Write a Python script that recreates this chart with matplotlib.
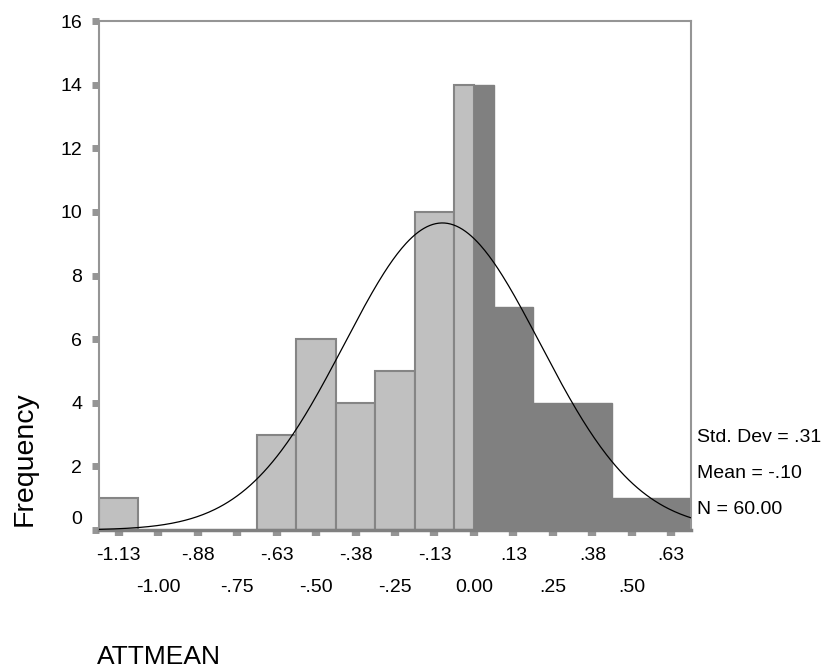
import numpy as np
import matplotlib.pyplot as plt
from matplotlib.transforms import ScaledTranslation

# histogram of ATTMEAN, bin width .125
bin_centers = [-1.125, -1.0, -0.875, -0.75, -0.625, -0.5, -0.375, -0.25,
               -0.125, 0.0, 0.125, 0.25, 0.375, 0.5, 0.625]
counts = [1, 0, 0, 0, 3, 6, 4, 5, 10, 14, 7, 4, 4, 1, 1]
bin_width = 0.125
split_at = 0.0  # bars right of this are shaded dark

std_dev = 0.31
mean = -0.10
n_obs = 60

row1_ticks = [-1.125, -0.875, -0.625, -0.375, -0.125, 0.125, 0.375, 0.625]
row1_labels = ['-1.13', '-.88', '-.63', '-.38', '-.13', '.13', '.38', '.63']
row2_ticks = [-1.0, -0.75, -0.5, -0.25, 0.0, 0.25, 0.5]
row2_labels = ['-1.00', '-.75', '-.50', '-.25', '0.00', '.25', '.50']
y_ticks = [0, 2, 4, 6, 8, 10, 12, 14, 16]

light = '#c0c0c0'
dark = '#808080'
edge = '#858585'
frame = '#959595'

plt.rcParams['font.family'] = ['Liberation Sans', 'DejaVu Sans']
plt.rcParams['font.size'] = 14

fig = plt.figure(figsize=(8.32, 6.68), dpi=100)
ax = fig.add_axes([99 / 832, 138 / 668, 592 / 832, 509 / 668])

for c, h in zip(bin_centers, counts):
    if h == 0:
        continue
    lo, hi = c - bin_width / 2, c + bin_width / 2
    if lo < split_at:
        right = min(hi, split_at)
        ax.bar(lo, h, width=right - lo, align='edge', color=light,
               edgecolor=edge, linewidth=1.5, zorder=2)
    if hi > split_at:
        left = max(lo, split_at)
        ax.bar(left, h, width=hi - left, align='edge', color=dark,
               edgecolor=dark, linewidth=1.0, zorder=2)

# fitted normal curve
xs = np.linspace(-1.1875, 0.6875, 400)
ys = n_obs * bin_width / (std_dev * np.sqrt(2 * np.pi)) * np.exp(-0.5 * ((xs - mean) / std_dev) ** 2)
ax.plot(xs, ys, color='black', linewidth=0.9, zorder=3)

ax.set_xlim(-1.1875, 0.6875)
ax.set_ylim(0, 16)

ax.set_xticks(row1_ticks)
ax.set_xticklabels(row1_labels)
ax.set_xticks(row2_ticks, minor=True)
ax.set_xticklabels(row2_labels, minor=True)
ax.set_yticks(y_ticks)
ax.set_yticklabels([str(v) for v in y_ticks])

ax.tick_params(axis='x', which='both', direction='out', length=4, width=6,
               color=frame, labelsize=14)
ax.tick_params(axis='x', which='major', pad=8)
ax.tick_params(axis='x', which='minor', pad=31)
ax.tick_params(axis='y', direction='out', length=5, width=5, color=frame,
               labelsize=14, pad=7)

# SPSS lifts the "0" label off the x axis
zero_lbl = ax.get_yticklabels()[0]
zero_lbl.set_transform(zero_lbl.get_transform() + ScaledTranslation(0, 0.13, fig.dpi_scale_trans))

for s in ax.spines.values():
    s.set_color(frame)
    s.set_linewidth(1.5)
ax.spines['bottom'].set_color('#808080')
ax.spines['bottom'].set_linewidth(2.5)

fig.text(25 / 832, 1 - 459 / 668, 'Frequency', rotation=90, ha='center',
         va='center', fontsize=20.5)
fig.text(97 / 832, 1 - 657 / 668, 'ATTMEAN', ha='left', va='center', fontsize=19)

stats = ['Std. Dev = .%02d' % round(std_dev * 100),
         'Mean = -.%02d' % round(abs(mean) * 100),
         'N = %.2f' % n_obs]
for txt, ypix in zip(stats, [437, 473, 510]):
    fig.text(697 / 832, 1 - ypix / 668, txt, ha='left', va='center', fontsize=14)

fig.savefig('out.png', dpi=100)
